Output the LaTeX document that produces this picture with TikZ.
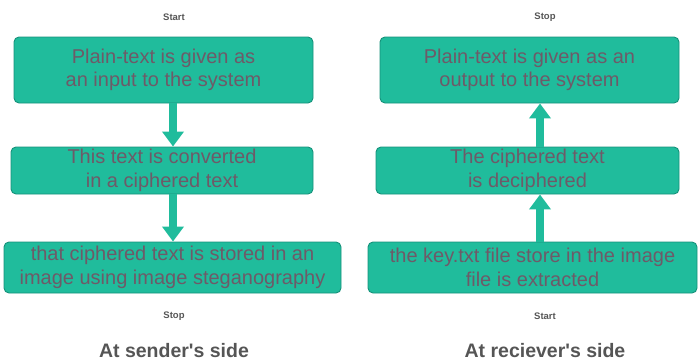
\documentclass[tikz,border=0pt]{standalone}
\usepackage{fontspec}
\setmainfont{Liberation Sans}[Ligatures=TeXOff]
\usetikzlibrary{arrows.meta}
\definecolor{boxfill}{HTML}{20BC9C}
\definecolor{boxline}{HTML}{16917A}
\definecolor{boxtext}{HTML}{6E5A68}
\definecolor{labeltext}{HTML}{555555}
\tikzset{
  stepbox/.style={draw=boxline, fill=boxfill, line width=0.9pt, rounded corners=5pt,
    align=center, text=boxtext, inner sep=0pt,
    font=\fontsize{20}{23.5}\selectfont},
  endlabel/.style={text=labeltext, font=\bfseries\fontsize{9.5}{11}\selectfont},
  sidelabel/.style={text=labeltext, font=\bfseries\fontsize{19.5}{22}\selectfont},
  flow/.style={line width=7.5pt, draw=boxfill,
    -{Triangle[width=21pt,length=15pt,fill=boxfill]}}
}
\begin{document}
\begin{tikzpicture}[x=1pt,y=-1pt]
\useasboundingbox (0,0) rectangle (699,362);

% sender's side
\node[endlabel] (sstart) at (174,17) {Start};
\node[stepbox, minimum width=299pt, minimum height=66pt] (s1) at (163.5,70)
  {Plain-text is given as\\an input to the system};
\node[stepbox, minimum width=302pt, minimum height=47pt] (s2) at (162,170.5)
  {This text is converted\\in a ciphered text};
\node[stepbox, minimum width=337pt, minimum height=51pt] (s3) at (172.5,267.5)
  {that ciphered text is stored in an\\image using image steganography};
\node[endlabel] (sstop) at (174,316) {Stop};
\node[sidelabel] (sside) at (174,351) {At sender's side};
\coordinate (scol) at (173,0);
\draw[flow] (s1.south -| scol) -- (s2.north -| scol);
\draw[flow] (s2.south -| scol) -- (s3.north -| scol);

% receiver's side
\node[endlabel] (rstop) at (545,17) {Stop};
\node[stepbox, minimum width=299pt, minimum height=66pt] (r1) at (529.5,70)
  {Plain-text is given as an\\output to the system};
\node[stepbox, minimum width=303pt, minimum height=47pt] (r2) at (527.5,170.5)
  {The ciphered text\\is deciphered};
\node[stepbox, minimum width=329pt, minimum height=51pt] (r3) at (532.5,267.5)
  {the key.txt file store in the image\\file is extracted};
\node[endlabel] (rstart) at (545,316) {Start};
\node[sidelabel] (rside) at (545,351) {At reciever's side};
\coordinate (rcol) at (540,0);
\draw[flow] (r2.north -| rcol) -- (r1.south -| rcol);
\draw[flow] (r3.north -| rcol) -- (r2.south -| rcol);
\end{tikzpicture}
\end{document}
